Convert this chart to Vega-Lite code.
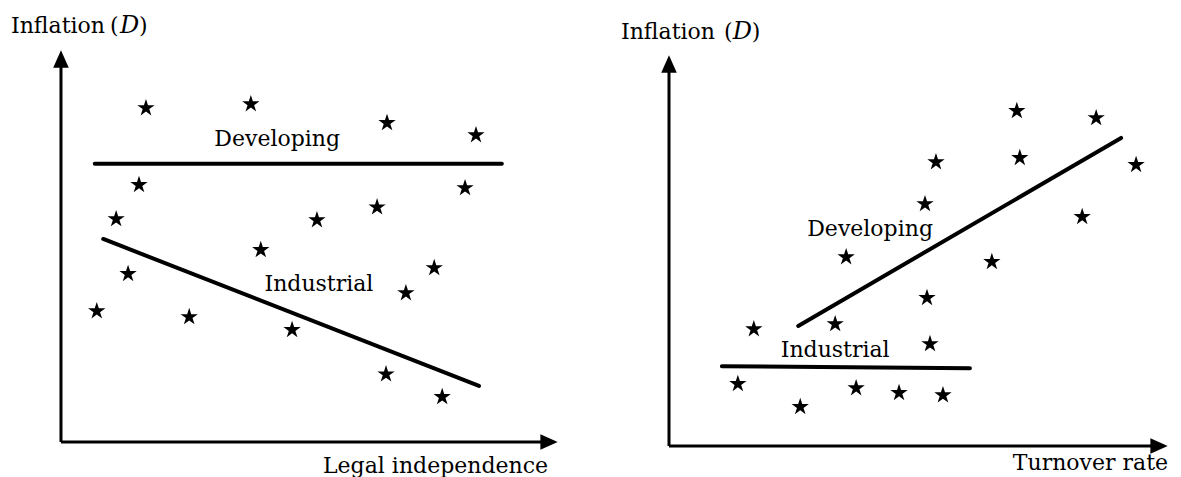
{
  "$schema": "https://vega.github.io/schema/vega-lite/v6.json",
  "autosize": {"type": "pad"},
  "padding": 0,
  "background": "white",
  "config": {"view": {"stroke": null}, "text": {"font": "DejaVu Serif", "fontSize": 22, "color": "black", "baseline": "alphabetic"}},
  "spacing": 0,
  "bounds": "flush",
  "datasets": {
    "stars": [
      {"panel": "L", "x": 17.1, "y": 85.2}, {"panel": "L", "x": 38.2, "y": 86.2}, {"panel": "L", "x": 65.6, "y": 81.4}, {"panel": "L", "x": 83.5, "y": 78.3},
      {"panel": "L", "x": 15.7, "y": 65.6}, {"panel": "L", "x": 11.1, "y": 56.9}, {"panel": "L", "x": 51.5, "y": 56.6}, {"panel": "L", "x": 63.6, "y": 59.9},
      {"panel": "L", "x": 81.3, "y": 64.8}, {"panel": "L", "x": 40.2, "y": 49.0}, {"panel": "L", "x": 13.5, "y": 42.9}, {"panel": "L", "x": 75.1, "y": 44.4},
      {"panel": "L", "x": 69.4, "y": 38.0}, {"panel": "L", "x": 7.2, "y": 33.4}, {"panel": "L", "x": 25.8, "y": 31.9}, {"panel": "L", "x": 46.5, "y": 28.6},
      {"panel": "L", "x": 65.4, "y": 17.3}, {"panel": "L", "x": 76.7, "y": 11.5},
      {"panel": "R", "x": 69.7, "y": 85.7}, {"panel": "R", "x": 85.6, "y": 83.9}, {"panel": "R", "x": 93.6, "y": 71.9}, {"panel": "R", "x": 53.5, "y": 72.6},
      {"panel": "R", "x": 70.3, "y": 73.7}, {"panel": "R", "x": 51.3, "y": 61.9}, {"panel": "R", "x": 82.8, "y": 58.6}, {"panel": "R", "x": 35.5, "y": 48.3},
      {"panel": "R", "x": 64.7, "y": 47.1}, {"panel": "R", "x": 51.7, "y": 37.9}, {"panel": "R", "x": 17.0, "y": 29.9}, {"panel": "R", "x": 33.3, "y": 31.2},
      {"panel": "R", "x": 52.3, "y": 26.1}, {"panel": "R", "x": 13.8, "y": 15.9}, {"panel": "R", "x": 26.3, "y": 10.0}, {"panel": "R", "x": 37.5, "y": 14.8},
      {"panel": "R", "x": 46.1, "y": 13.6}, {"panel": "R", "x": 54.9, "y": 13.0}
    ],
    "trends": [
      {"panel": "L", "group": "Developing", "x": 6.8, "y": 71.0, "x2": 88.7, "y2": 71.0},
      {"panel": "L", "group": "Industrial", "x": 8.5, "y": 51.8, "x2": 84.1, "y2": 14.3},
      {"panel": "R", "group": "Developing", "x": 25.9, "y": 30.7, "x2": 90.6, "y2": 78.8},
      {"panel": "R", "group": "Industrial", "x": 10.6, "y": 20.4, "x2": 60.3, "y2": 19.9}
    ],
    "axes": [
      {"panel": "L", "x": 0, "y": 0, "x2": 0, "y2": 96},
      {"panel": "L", "x": 0, "y": 0, "x2": 97, "y2": 0},
      {"panel": "R", "x": 0, "y": 0, "x2": 0, "y2": 96},
      {"panel": "R", "x": 0, "y": 0, "x2": 97, "y2": 0}
    ],
    "arrows": [
      {"panel": "L", "dir": "up", "x": 0, "y": 97.7},
      {"panel": "L", "dir": "right", "x": 98.2, "y": 0},
      {"panel": "R", "dir": "up", "x": 0, "y": 97.7},
      {"panel": "R", "dir": "right", "x": 98.2, "y": 0}
    ],
    "labels": [
      {"panel": "L", "role": "group", "text": "Developing", "x": 43.5, "y": 75.5},
      {"panel": "L", "role": "group", "text": "Industrial", "x": 51.9, "y": 38.5},
      {"panel": "R", "role": "group", "text": "Developing", "x": 40.3, "y": 53.7},
      {"panel": "R", "role": "group", "text": "Industrial", "x": 33.3, "y": 22.8},
      {"panel": "L", "role": "ytitle", "text": "Inflation", "x": -10.06, "y": 104.3},
      {"panel": "L", "role": "ytitle", "text": "(", "x": 9.86, "y": 104.3},
      {"panel": "L", "role": "yvar", "text": "D", "x": 11.87, "y": 104.3},
      {"panel": "L", "role": "ytitle", "text": ")", "x": 15.7, "y": 104.3},
      {"panel": "R", "role": "ytitle", "text": "Inflation", "x": -9.62, "y": 104.1},
      {"panel": "R", "role": "ytitle", "text": "(", "x": 11.0, "y": 104.1},
      {"panel": "R", "role": "yvar", "text": "D", "x": 12.8, "y": 104.1},
      {"panel": "R", "role": "ytitle", "text": ")", "x": 16.6, "y": 104.1},
      {"panel": "L", "role": "xtitle", "text": "Legal independence", "x": 98.0, "y": -7.9},
      {"panel": "R", "role": "xtitle", "text": "Turnover rate", "x": 100.0, "y": -6.1}
    ]
  },
  "hconcat": [
    {
      "width": 590,
      "height": 477,
      "encoding": {
        "x": {"field": "x", "type": "quantitative", "axis": null, "scale": {"domain": [-12.27, 106.44], "nice": false, "zero": false}},
        "y": {"field": "y", "type": "quantitative", "axis": null, "scale": {"domain": [-8.93, 112.76], "nice": false, "zero": false}}
      },
      "layer": [
        {"data": {"name": "axes"}, "transform": [{"filter": "datum.panel === 'L'"}], "mark": {"type": "rule", "strokeWidth": 3, "color": "black"}, "encoding": {"x2": {"field": "x2"}, "y2": {"field": "y2"}}},
        {"data": {"name": "arrows"}, "transform": [{"filter": "datum.panel === 'L'"}], "mark": {"type": "point", "filled": true, "color": "black", "size": 300, "opacity": 1}, "encoding": {"shape": {"field": "dir", "type": "nominal", "legend": null, "scale": {"domain": ["up", "right"], "range": ["M0,-1L-0.9,1L0.9,1Z", "M1,0L-1,-0.9L-1,0.9Z"]}}}},
        {"data": {"name": "trends"}, "transform": [{"filter": "datum.panel === 'L'"}], "mark": {"type": "rule", "strokeWidth": 4, "color": "black", "strokeCap": "round"}, "encoding": {"x2": {"field": "x2"}, "y2": {"field": "y2"}}},
        {"data": {"name": "stars"}, "transform": [{"filter": "datum.panel === 'L'"}], "mark": {"type": "point", "filled": true, "color": "black", "opacity": 1, "size": 330, "shape": "M0,-1L0.2245,-0.309L0.951,-0.309L0.363,0.118L0.588,0.809L0,0.382L-0.588,0.809L-0.363,0.118L-0.951,-0.309L-0.2245,-0.309Z"}},
        {"data": {"name": "labels"}, "transform": [{"filter": "datum.panel === 'L' && datum.role === 'group'"}], "mark": {"type": "text", "align": "center"}, "encoding": {"text": {"field": "text"}}},
        {"data": {"name": "labels"}, "transform": [{"filter": "datum.panel === 'L' && datum.role === 'ytitle'"}], "mark": {"type": "text", "align": "left"}, "encoding": {"text": {"field": "text"}}},
        {"data": {"name": "labels"}, "transform": [{"filter": "datum.panel === 'L' && datum.role === 'yvar'"}], "mark": {"type": "text", "align": "left", "fontStyle": "italic", "fontSize": 24}, "encoding": {"text": {"field": "text"}}},
        {"data": {"name": "labels"}, "transform": [{"filter": "datum.panel === 'L' && datum.role === 'xtitle'"}], "mark": {"type": "text", "align": "right"}, "encoding": {"text": {"field": "text"}}}
      ]
    },
    {
      "width": 591,
      "height": 477,
      "encoding": {
        "x": {"field": "x", "type": "quantitative", "axis": null, "scale": {"domain": [-15.83, 102.6], "nice": false, "zero": false}},
        "y": {"field": "y", "type": "quantitative", "axis": null, "scale": {"domain": [-7.93, 114.07], "nice": false, "zero": false}}
      },
      "layer": [
        {"data": {"name": "axes"}, "transform": [{"filter": "datum.panel === 'R'"}], "mark": {"type": "rule", "strokeWidth": 3, "color": "black"}, "encoding": {"x2": {"field": "x2"}, "y2": {"field": "y2"}}},
        {"data": {"name": "arrows"}, "transform": [{"filter": "datum.panel === 'R'"}], "mark": {"type": "point", "filled": true, "color": "black", "size": 300, "opacity": 1}, "encoding": {"shape": {"field": "dir", "type": "nominal", "legend": null, "scale": {"domain": ["up", "right"], "range": ["M0,-1L-0.9,1L0.9,1Z", "M1,0L-1,-0.9L-1,0.9Z"]}}}},
        {"data": {"name": "trends"}, "transform": [{"filter": "datum.panel === 'R'"}], "mark": {"type": "rule", "strokeWidth": 4, "color": "black", "strokeCap": "round"}, "encoding": {"x2": {"field": "x2"}, "y2": {"field": "y2"}}},
        {"data": {"name": "stars"}, "transform": [{"filter": "datum.panel === 'R'"}], "mark": {"type": "point", "filled": true, "color": "black", "opacity": 1, "size": 330, "shape": "M0,-1L0.2245,-0.309L0.951,-0.309L0.363,0.118L0.588,0.809L0,0.382L-0.588,0.809L-0.363,0.118L-0.951,-0.309L-0.2245,-0.309Z"}},
        {"data": {"name": "labels"}, "transform": [{"filter": "datum.panel === 'R' && datum.role === 'group'"}], "mark": {"type": "text", "align": "center"}, "encoding": {"text": {"field": "text"}}},
        {"data": {"name": "labels"}, "transform": [{"filter": "datum.panel === 'R' && datum.role === 'ytitle'"}], "mark": {"type": "text", "align": "left"}, "encoding": {"text": {"field": "text"}}},
        {"data": {"name": "labels"}, "transform": [{"filter": "datum.panel === 'R' && datum.role === 'yvar'"}], "mark": {"type": "text", "align": "left", "fontStyle": "italic", "fontSize": 24}, "encoding": {"text": {"field": "text"}}},
        {"data": {"name": "labels"}, "transform": [{"filter": "datum.panel === 'R' && datum.role === 'xtitle'"}], "mark": {"type": "text", "align": "right"}, "encoding": {"text": {"field": "text"}}}
      ]
    }
  ]
}
